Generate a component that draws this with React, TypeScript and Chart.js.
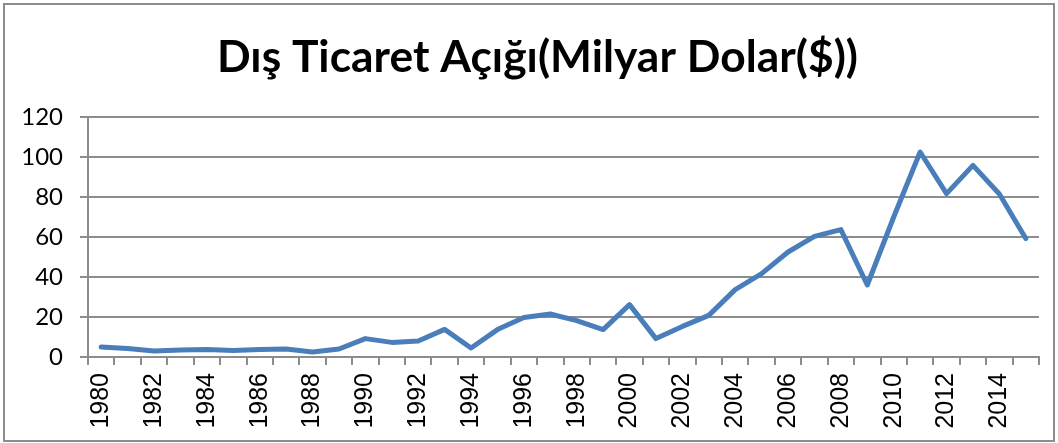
import React, { useEffect, useRef } from "react";
import { Chart, registerables } from "chart.js";

Chart.register(...registerables);

const years: string[] = [
  "1980","1981","1982","1983","1984","1985","1986","1987","1988","1989",
  "1990","1991","1992","1993","1994","1995","1996","1997","1998","1999",
  "2000","2001","2002","2003","2004","2005","2006","2007","2008","2009",
  "2010","2011","2012","2013","2014","2015",
];

const deficit: number[] = [
  5.0, 4.2, 3.0, 3.5, 3.7, 3.3, 3.8, 4.0, 2.5, 4.0,
  9.2, 7.3, 8.0, 13.8, 4.5, 13.7, 19.8, 21.5, 18.2, 13.7,
  26.2, 9.2, 15.3, 20.8, 33.7, 41.7, 52.5, 60.3, 63.7, 36.0,
  70.0, 102.5, 81.7, 95.8, 81.5, 59.2,
];

const yTicks: number[] = [0, 20, 40, 60, 80, 100, 120];

const titleText = "Dış Ticaret Açığı(Milyar Dolar($))";

const W = 1058;
const H = 443;

const framePlugin = {
  id: "frame",
  beforeDraw(chart: any) {
    const ctx = chart.ctx;
    ctx.save();
    ctx.fillStyle = "#ffffff";
    ctx.fillRect(0, 0, chart.width, chart.height);
    ctx.strokeStyle = "#8c8c8c";
    ctx.lineWidth = 2;
    ctx.strokeRect(4, 4, chart.width - 8, chart.height - 6);
    ctx.restore();
  },
  afterDraw(chart: any) {
    const ctx = chart.ctx;
    ctx.save();
    ctx.font = 'bold 44px Lato, "Open Sans", sans-serif';
    ctx.fillStyle = "#000000";
    ctx.textBaseline = "alphabetic";
    ctx.textAlign = "left";
    const targetWidth = 641;
    const measured = ctx.measureText(titleText).width;
    const sx = targetWidth / measured;
    ctx.translate(537.5 - targetWidth / 2, 72);
    ctx.scale(sx, 1);
    ctx.fillText(titleText, 0, 0);
    ctx.restore();
  },
};

export default function App() {
  const ref = useRef<HTMLCanvasElement | null>(null);

  useEffect(() => {
    if (!ref.current) return;
    const chart = new Chart(ref.current, {
      type: "line",
      data: {
        labels: years,
        datasets: [
          {
            label: titleText,
            data: deficit,
            borderColor: "#4a7ebb",
            backgroundColor: "#4a7ebb",
            borderWidth: 5,
            pointRadius: 0,
            tension: 0,
            borderJoinStyle: "round",
            borderCapStyle: "round",
          },
        ],
      },
      options: {
        responsive: false,
        animation: false,
        layout: { padding: { left: 0, right: 19, top: 117, bottom: 0 } },
        plugins: {
          legend: { display: false },
          tooltip: { enabled: false },
          title: { display: false },
        },
        scales: {
          x: {
            type: "category",
            offset: true,
            grid: {
              offset: true,
              drawOnChartArea: false,
              drawTicks: true,
              tickLength: 8,
              color: "#8c8c8c",
              lineWidth: 2,
            },
            border: { display: true, color: "#8c8c8c", width: 2 },
            ticks: {
              autoSkip: false,
              maxRotation: 90,
              minRotation: 90,
              padding: 8,
              color: "#000000",
              font: { family: '"Liberation Sans", Arial, sans-serif', size: 25 },
              callback: (_v: any, i: number) => (i % 2 === 0 ? years[i] : ""),
            },
            afterFit: (scale: any) => {
              scale.height = 86;
              scale.paddingLeft = 0;
              scale.paddingRight = 0;
            },
          },
          y: {
            min: 0,
            max: 120,
            grid: {
              color: "#8c8c8c",
              lineWidth: 2,
              tickLength: 8,
              drawTicks: true,
            },
            border: { display: true, color: "#8c8c8c", width: 2 },
            ticks: {
              stepSize: 20,
              padding: 17,
              color: "#000000",
              font: { family: 'Lato, "Open Sans", sans-serif', size: 24 },
            },
            afterBuildTicks: (scale: any) => {
              scale.ticks = yTicks.map((v) => ({ value: v }));
            },
            afterFit: (scale: any) => {
              scale.width = 88;
            },
          },
        },
      },
      plugins: [framePlugin],
    });
    return () => chart.destroy();
  }, []);

  return (
    <div style={{ position: "absolute", left: 0, top: 0, width: W, height: H, background: "#fff" }}>
      <canvas ref={ref} width={W} height={H} style={{ display: "block" }} />
    </div>
  );
}
